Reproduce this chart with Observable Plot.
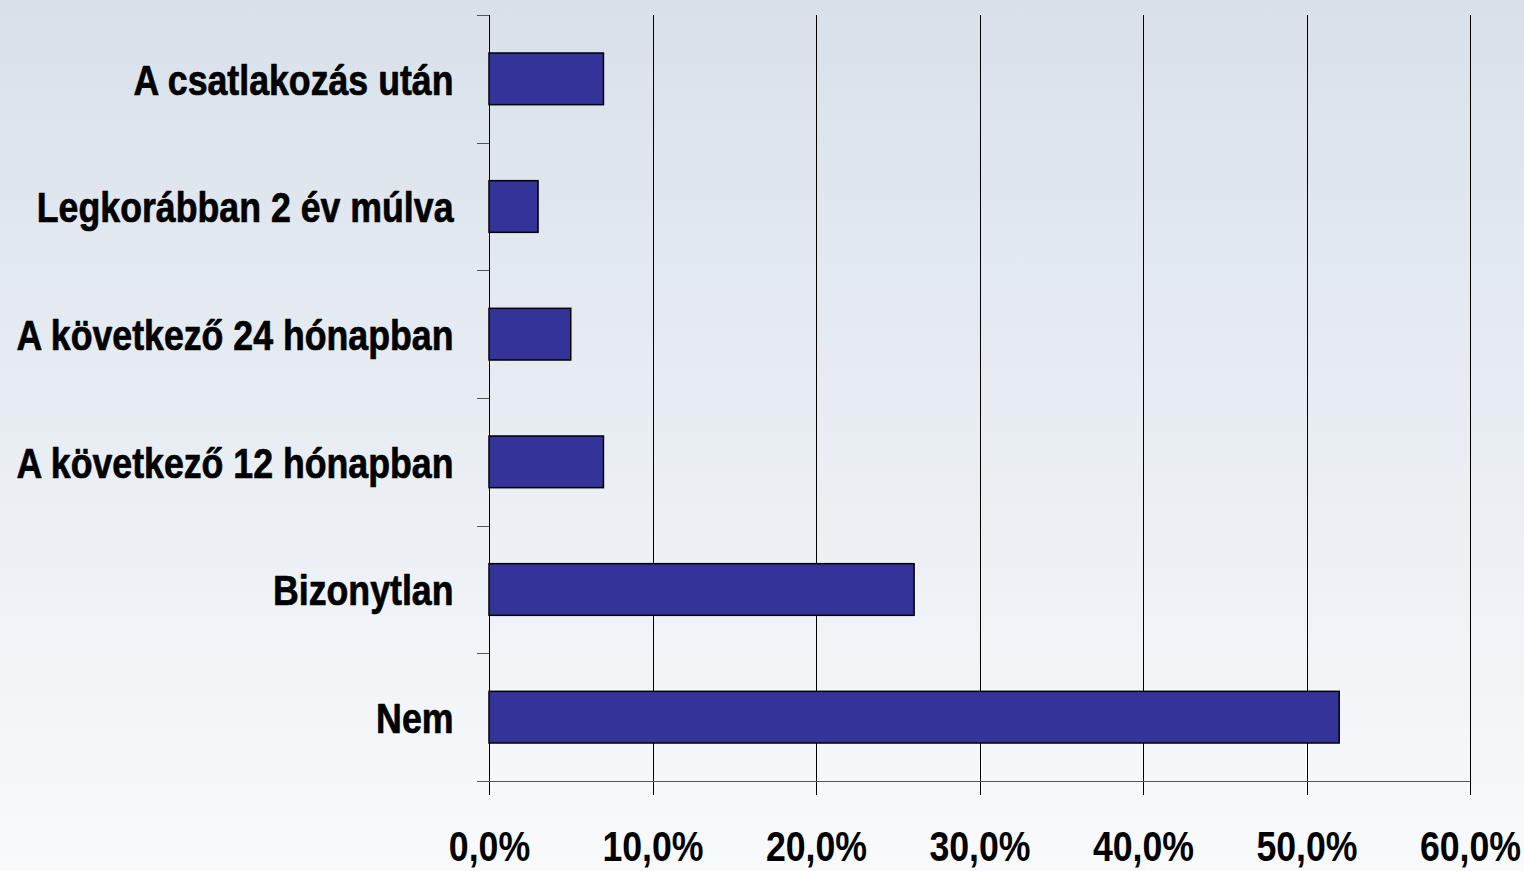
<!DOCTYPE html>
<html>
<head>
<meta charset="utf-8">
<script src="https://cdn.jsdelivr.net/npm/d3@7"></script>
<script src="https://cdn.jsdelivr.net/npm/@observablehq/plot@0.6"></script>
<style>
  html, body { margin: 0; padding: 0; }
  body { width: 1524px; height: 871px; overflow: hidden;
         background: linear-gradient(to bottom, #d8e1ea 0%, #f9fafc 100%); }
  #chart svg { display: block; }
</style>
</head>
<body>
<div id="chart"></div>
<script>
const categories = [
  "A csatlakozás után",
  "Legkorábban 2 év múlva",
  "A következő 24 hónapban",
  "A következő 12 hónapban",
  "Bizonytlan",
  "Nem"
];
const values = [7.0, 3.0, 5.0, 7.0, 26.0, 52.0];
const xTicks = [0, 10, 20, 30, 40, 50, 60];

const rows = categories.map((c, i) => ({cat: c, i, value: values[i]}));
const boundaries = d3.range(categories.length + 1);
const fontFamily = "'Liberation Sans', Arial, sans-serif";

const chart = Plot.plot({
  width: 1524,
  height: 871,
  marginLeft: 489,
  marginRight: 54,
  marginTop: 15,
  marginBottom: 90,
  style: {background: "transparent", fontFamily, fontWeight: "bold", fontSize: "42px", color: "#000"},
  x: {domain: [0, 60], ticks: xTicks, label: null},
  y: {domain: [0, categories.length], reverse: true, label: null, axis: null},
  marks: [
    Plot.ruleX(xTicks, {stroke: "#000", strokeWidth: 1, insetBottom: -14, shapeRendering: "crispEdges"}),
    Plot.ruleY(boundaries, {x1: 0, x2: 0, insetLeft: -12, stroke: "#555", strokeWidth: 1, shapeRendering: "crispEdges"}),
    Plot.ruleY([categories.length], {x1: 0, x2: 60, insetLeft: -12, stroke: "#555", strokeWidth: 1, shapeRendering: "crispEdges"}),
    Plot.rectX(rows, {
      x1: 0, x2: "value",
      y1: "i", y2: d => d.i + 1,
      insetTop: 38, insetBottom: 38,
      fill: "#333399", stroke: "#000", strokeWidth: 1.5
    }),
    Plot.text(rows, {
      x: 0, y: d => d.i + 0.5, text: "cat",
      textAnchor: "end", dx: -36, dy: 2,
      fontSize: 42, fontWeight: "bold", fill: "#000",
      stroke: "#000", strokeWidth: 0.7
    }),
    Plot.axisX(xTicks, {
      tickSize: 0, tickPadding: 50,
      tickFormat: d => d.toFixed(1).replace(".", ",") + "%",
      fontSize: 42, fontWeight: "bold", fill: "#000",
      stroke: "#000", strokeWidth: 0.7
    })
  ]
});
document.getElementById("chart").appendChild(chart);
// emulate a narrow bold face: compress glyphs horizontally
d3.select(chart).selectAll("text").each(function() {
  const w = this.getComputedTextLength();
  if (w > 0) {
    this.setAttribute("textLength", (w * 0.85).toFixed(1));
    this.setAttribute("lengthAdjust", "spacingAndGlyphs");
  }
});
</script>
</body>
</html>
